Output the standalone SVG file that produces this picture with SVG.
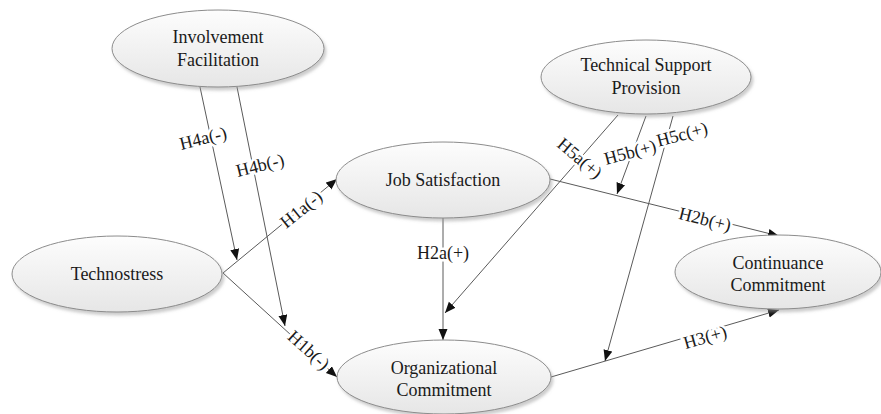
<svg xmlns="http://www.w3.org/2000/svg" width="881" height="414" viewBox="0 0 881 414">
<style>
.node ellipse{fill:url(#g);stroke:#8c8c8c;stroke-width:1;filter:url(#sh)}
.node text{font-family:'Liberation Serif','DejaVu Serif',serif;font-size:18px;fill:#1a1a1a;text-anchor:middle}
.conn path{stroke:#5a5a5a;stroke-width:1;fill:none;marker-end:url(#ah)}
.lbl{font-family:'Liberation Serif','DejaVu Serif',serif;font-size:18px;fill:#1a1a1a;text-anchor:middle;stroke:#fff;stroke-width:5;paint-order:stroke;stroke-linejoin:round}
</style>
<defs>
<linearGradient id="g" x1="0" y1="0" x2="0" y2="1">
<stop offset="0" stop-color="#fdfdfd"/>
<stop offset="1" stop-color="#e6e6e6"/>
</linearGradient>
<filter id="sh" x="-10%" y="-10%" width="125%" height="130%">
<feDropShadow dx="2" dy="3" stdDeviation="1.5" flood-color="#999" flood-opacity="0.5"/>
</filter>
<marker id="ah" markerUnits="userSpaceOnUse" markerWidth="12" markerHeight="10" refX="11" refY="4.5" orient="auto">
<path d="M0,0 L11,4.5 L0,9 Z" fill="#111"/>
</marker>
</defs>
<rect width="881" height="414" fill="#fff"/>
<g id="connectors" class="conn">
<path d="M200,87 L237,260"/>
<path d="M237,87 L285,326"/>
<path d="M223,273 L337,179"/>
<path d="M223,273 L337,377"/>
<path d="M443,218 L443,340"/>
<path d="M550,179 L779,236"/>
<path d="M551,377 L779,310"/>
<path d="M618,115 L445,313"/>
<path d="M646,116 L617,194"/>
<path d="M673,116 L605,361"/>
</g>
<g id="labels">
<text class="lbl" font-family="Liberation Serif, serif" transform="translate(203,138) rotate(-14)" dy="0.35em">H4a(-)</text>
<text class="lbl" font-family="Liberation Serif, serif" transform="translate(260,165) rotate(-14)" dy="0.35em">H4b(-)</text>
<text class="lbl" font-family="Liberation Serif, serif" transform="translate(301,209) rotate(-39)" dy="0.35em">H1a(-)</text>
<text class="lbl" font-family="Liberation Serif, serif" transform="translate(309,350) rotate(42)" dy="0.35em">H1b(-)</text>
<text class="lbl" font-family="Liberation Serif, serif" transform="translate(443,253)" dy="0.35em">H2a(+)</text>
<text class="lbl" font-family="Liberation Serif, serif" transform="translate(705,219) rotate(14)" dy="0.35em">H2b(+)</text>
<text class="lbl" font-family="Liberation Serif, serif" transform="translate(705,337) rotate(-16)" dy="0.35em">H3(+)</text>
<text class="lbl" font-family="Liberation Serif, serif" transform="translate(580,158) rotate(40)" dy="0.35em">H5a(+)</text>
<text class="lbl" font-family="Liberation Serif, serif" transform="translate(630,152) rotate(-15)" dy="0.35em">H5b(+)</text>
<text class="lbl" font-family="Liberation Serif, serif" transform="translate(682,134) rotate(-15)" dy="0.35em">H5c(+)</text>
</g>
<g id="involvement" class="node">
<ellipse cx="218" cy="48.5" rx="106" ry="38.5"/>
<text x="218" y="43">Involvement</text>
<text x="218" y="66">Facilitation</text>
</g>
<g id="techsupport" class="node">
<ellipse cx="646" cy="77" rx="105" ry="37"/>
<text x="646" y="71">Technical Support</text>
<text x="646" y="94">Provision</text>
</g>
<g id="jobsat" class="node">
<ellipse cx="443" cy="180" rx="107" ry="38"/>
<text x="443" y="186">Job Satisfaction</text>
</g>
<g id="technostress" class="node">
<ellipse cx="117" cy="274" rx="105" ry="38"/>
<text x="117" y="280">Technostress</text>
</g>
<g id="orgcommit" class="node">
<ellipse cx="444" cy="377" rx="107" ry="37"/>
<text x="444" y="374">Organizational</text>
<text x="444" y="396">Commitment</text>
</g>
<g id="contcommit" class="node">
<ellipse cx="778" cy="272" rx="103" ry="37"/>
<text x="778" y="269">Continuance</text>
<text x="778" y="291">Commitment</text>
</g>
</svg>
